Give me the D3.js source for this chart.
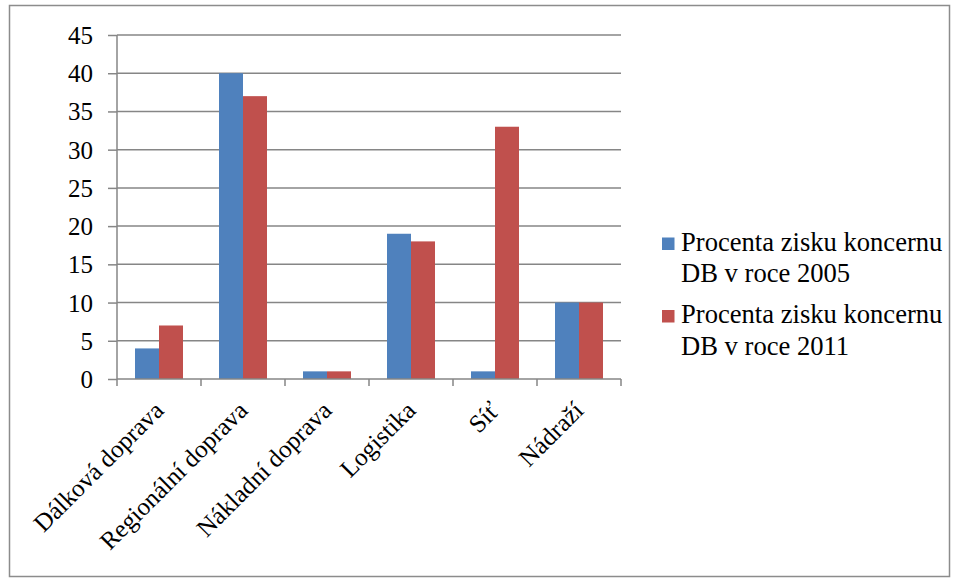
<!DOCTYPE html>
<html><head><meta charset="utf-8">
<script src="https://cdn.jsdelivr.net/npm/d3@7"></script>
<style>body{margin:0;background:#fff}svg{display:block}text{font-family:"Liberation Serif","Times New Roman",serif;fill:#000}</style>
</head><body>
<script>
const categories = ["Dálková doprava","Regionální doprava","Nákladní doprava","Logistika","Síť","Nádraží"];
const series2005 = [4,40,1,19,1,10];
const series2011 = [7,37,1,18,33,10];
const seriesNames = ["Procenta zisku koncernu DB v roce 2005","Procenta zisku koncernu DB v roce 2011"];
const legendLines = [["Procenta zisku koncernu","DB v roce 2005"],["Procenta zisku koncernu","DB v roce 2011"]];
const yTicks = [0,5,10,15,20,25,30,35,40,45];
const colors = ["#4F81BD","#C0504D"];

const W=957,H=581;
const svg=d3.select("body").append("svg").attr("width",W).attr("height",H);
svg.append("rect").attr("x",9.5).attr("y",5.5).attr("width",940).attr("height",571).attr("fill","#fff").attr("stroke","#8c8c8c").attr("stroke-width",1.5);

const x0=117,x1=621,yTop=35,yBot=379;
const x=d3.scaleBand().domain(categories).range([x0,x1]).paddingInner(0).paddingOuter(0);
const y=d3.scaleLinear().domain([0,45]).range([yBot,yTop]);
const inner=d3.scaleBand().domain([0,1]).range([0,x.bandwidth()]).paddingInner(0).paddingOuter(0.75);

// gridlines
svg.append("g").selectAll("line").data(yTicks.filter(d=>d>0)).join("line")
 .attr("x1",x0).attr("x2",x1).attr("y1",d=>y(d)).attr("y2",d=>y(d))
 .attr("stroke","#868686").attr("stroke-width",1.5);

// bars
const data=[series2005,series2011];
data.forEach((s,si)=>{
 svg.append("g").selectAll("rect").data(categories).join("rect")
  .attr("x",(c)=>x(c)+inner(si)).attr("width",inner.bandwidth())
  .attr("y",(c,i)=>y(s[i])).attr("height",(c,i)=>y(0)-y(s[i]))
  .attr("fill",colors[si]);
});

// y axis
const ya=svg.append("g").attr("transform",`translate(${x0},0)`)
 .call(d3.axisLeft(y).tickValues(yTicks).tickSize(9).tickPadding(15));
ya.attr("font-family","Liberation Serif").attr("font-size",25);
ya.select(".domain").attr("stroke","#868686").attr("stroke-width",1.5).attr("d",`M0,${yTop}V${yBot}`);
ya.selectAll(".tick line").attr("stroke","#868686").attr("stroke-width",1.5);
ya.selectAll(".tick text").attr("font-size",25).attr("fill","#000").attr("dy","0.34em");

// x axis
const xa=svg.append("g").attr("transform",`translate(0,${yBot})`).call(d3.axisBottom(x).tickSize(0).tickFormat(""));
xa.attr("font-family","Liberation Serif");
xa.select(".domain").attr("stroke","#868686").attr("stroke-width",1.5).attr("d",`M${x0},0H${x1}`);
const edges=d3.range(categories.length+1).map(i=>x0+i*x.step());
xa.selectAll(".edge").data(edges).join("line").attr("x1",d=>d).attr("x2",d=>d).attr("y1",0).attr("y2",7)
 .attr("stroke","#868686").attr("stroke-width",1.5);
xa.selectAll(".lbl").data(categories).join("text")
 .attr("transform",d=>`translate(${x(d)+x.bandwidth()/2+6},${33}) rotate(-45)`)
 .attr("text-anchor","end").attr("font-size",25).attr("fill","#000").text(d=>d);

// legend
const lg=svg.append("g").attr("font-family","Liberation Serif");
const rowsY=[[250.5,281.5],[323,355]];
legendLines.forEach((lines,i)=>{
 lg.append("rect").attr("x",662).attr("y",rowsY[i][0]-13).attr("width",12.5).attr("height",12.5).attr("fill",colors[i]);
 lines.forEach((t,j)=>lg.append("text").attr("x",681).attr("y",rowsY[i][j]).attr("font-size",26.6).text(t));
});
</script>
</body></html>
